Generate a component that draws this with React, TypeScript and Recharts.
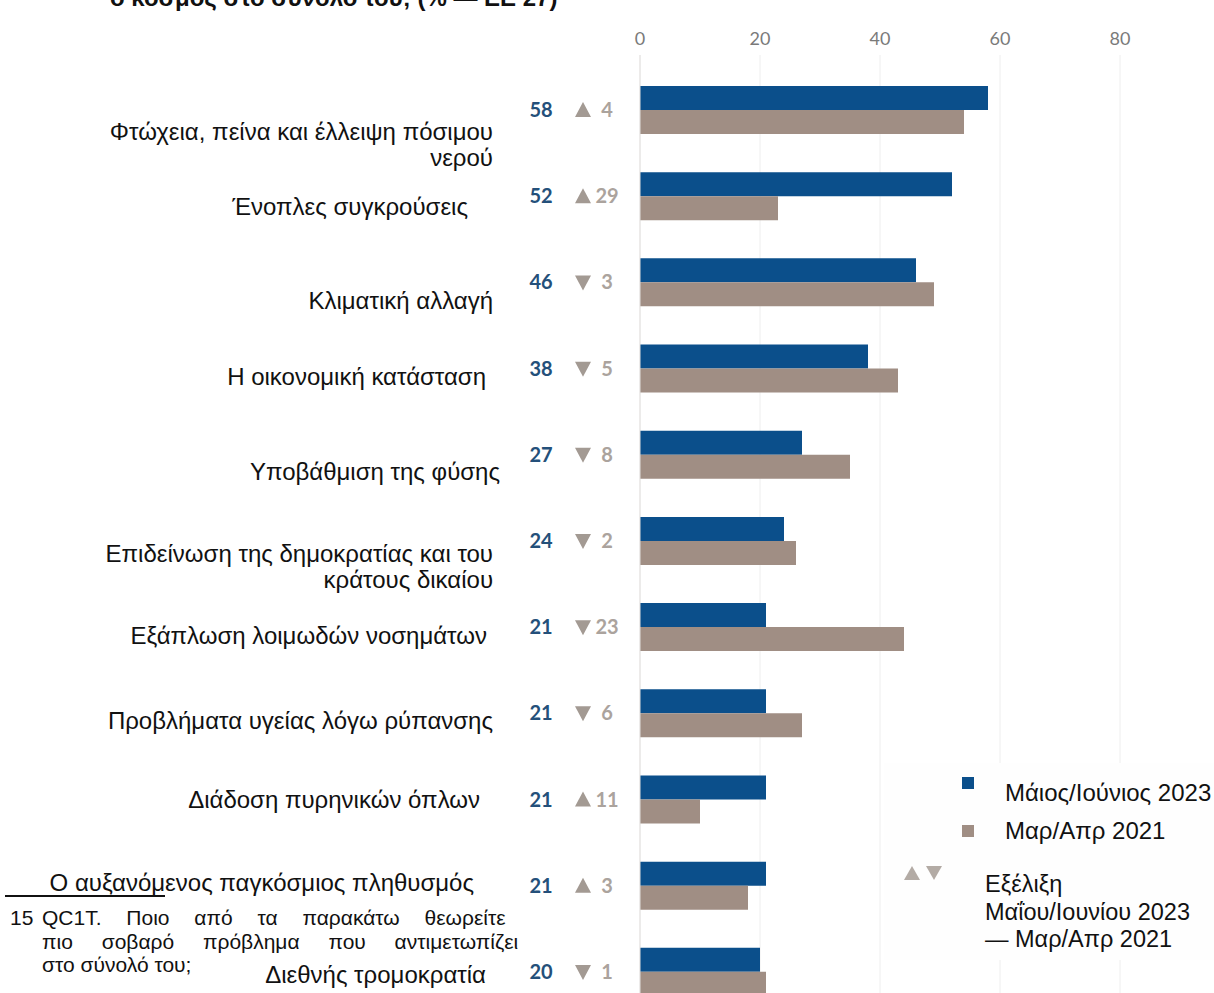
import { BarChart, Bar, XAxis, YAxis, CartesianGrid, Legend, ReferenceLine } from 'recharts'

const CATEGORIES = [
  'Φτώχεια, πείνα και έλλειψη πόσιμου\nνερού',
  'Ένοπλες συγκρούσεις',
  'Κλιματική αλλαγή',
  'Η οικονομική κατάσταση',
  'Υποβάθμιση της φύσης',
  'Επιδείνωση της δημοκρατίας και του\nκράτους δικαίου',
  'Εξάπλωση λοιμωδών νοσημάτων',
  'Προβλήματα υγείας λόγω ρύπανσης',
  'Διάδοση πυρηνικών όπλων',
  'Ο αυξανόμενος παγκόσμιος πληθυσμός',
  'Διεθνής τρομοκρατία',
]
const MAY_JUN_2023 = [58, 52, 46, 38, 27, 24, 21, 21, 21, 21, 20]
const MAR_APR_2021 = [54, 23, 49, 43, 35, 26, 44, 27, 10, 18, 21]
const CHANGE = [4, 29, -3, -5, -8, -2, -23, -6, 11, 3, -1]
const X_TICKS = [0, 20, 40, 60, 80]

// the scanned labels sit a little off their bars; nudge each one
const LABEL_DX = [0, -25, 0, -7, 7, 0, -6, 0, -13, -19, -7]
const LABEL_DY = [22, 10, 18, 8, 17, 13, 8, 7, 0, -3, 3]

const BLUE = '#0b4f8b'
const TAUPE = '#a08e84'
const ARROW = '#a39a93'
const LABEL_FONT = '"Liberation Sans", Arial, sans-serif'
const NUM_FONT = 'Lato, "Open Sans", sans-serif'

const data = CATEGORIES.map((name, i) => ({
  name,
  y2023: MAY_JUN_2023[i],
  y2021: MAR_APR_2021[i],
}))

function CategoryTick(props: any) {
  const { x, y, index } = props
  const i = index as number
  const lines = CATEGORIES[i].split('\n')
  const lx = x - 147 + LABEL_DX[i]
  const ly = y + LABEL_DY[i]
  const ch = CHANGE[i]
  const ax = x - 57
  const up = ch > 0
  const tri = up
    ? `${ax - 8},${y + 7} ${ax + 8},${y + 7} ${ax},${y - 8}`
    : `${ax - 8},${y - 7} ${ax + 8},${y - 7} ${ax},${y + 8}`
  return (
    <g>
      <text x={lx} y={ly} textAnchor="end" fontFamily={LABEL_FONT} fontSize={24} fill="#111">
        {lines.map((l, k) => (
          <tspan key={k} x={lx} dy={k === 0 ? '0.35em' : 26}>{l}</tspan>
        ))}
      </text>
      <text x={x - 99} y={y} dy="0.35em" textAnchor="middle" fontFamily={NUM_FONT}
        fontWeight={700} fontSize={20} fill="#24507a">{MAY_JUN_2023[i]}</text>
      <polygon points={tri} fill={ARROW} />
      <text x={x - 33} y={y} dy="0.35em" textAnchor="middle" fontFamily={NUM_FONT}
        fontWeight={700} fontSize={20} fill="#aba39d">{Math.abs(ch)}</text>
    </g>
  )
}

function LegendBox(props: any) {
  const items = (props.payload || []) as { value: string; color: string }[]
  return (
    <div style={{ position: 'relative', width: 330, height: 197, background: '#fefefe',
      fontFamily: LABEL_FONT, fontSize: 24, color: '#111' }}>
      {items.map((it, k) => (
        <div key={it.value}>
          <div style={{ position: 'absolute', left: 78, top: 14 + k * 48, width: 12, height: 12, background: it.color }} />
          <div style={{ position: 'absolute', left: 121, top: 18 + k * 38, whiteSpace: 'nowrap', lineHeight: '24px' }}>{it.value}</div>
        </div>
      ))}
      <svg style={{ position: 'absolute', left: 20, top: 102 }} width={44} height={16}>
        <polygon points="0,15 16,15 8,1" fill="#b3aba5" />
        <polygon points="22,1 38,1 30,15" fill="#b3aba5" />
      </svg>
      <div style={{ position: 'absolute', left: 101, top: 108, fontSize: 23.5, lineHeight: '27.5px', whiteSpace: 'nowrap' }}>
        Εξέλιξη<br />Μαΐου/Ιουνίου 2023<br />— Μαρ/Απρ 2021
      </div>
    </div>
  )
}

export default function App() {
  return (
    <div style={{ position: 'absolute', left: 0, top: 0, width: 1214, height: 993, overflow: 'hidden', background: '#fff' }}>
      {/* cut-off title of the source page */}
      <div style={{ position: 'absolute', left: 110, top: -16, fontFamily: LABEL_FONT, fontWeight: 700,
        fontSize: 24, whiteSpace: 'nowrap', color: '#111' }}>
        ο κόσμος στο σύνολό του; (% — ΕΕ 27)
      </div>

      {/* footnote of the source page, partly hidden under the chart image */}
      <div style={{ position: 'absolute', left: 0, top: 884, width: 519, height: 109, overflow: 'hidden',
        fontFamily: LABEL_FONT, fontSize: 21, color: '#111', lineHeight: '23px' }}>
        <div style={{ position: 'absolute', left: 5, top: 11, width: 160, height: 2, background: '#111' }} />
        <div style={{ position: 'absolute', left: 10, top: 22 }}>15</div>
        <div style={{ position: 'absolute', left: 42, top: 22, whiteSpace: 'nowrap', wordSpacing: 19 }}>
          QC1T. Ποιο από τα παρακάτω θεωρείτε ότι
        </div>
        <div style={{ position: 'absolute', left: 42, top: 46, whiteSpace: 'nowrap', wordSpacing: 23 }}>
          πιο σοβαρό πρόβλημα που αντιμετωπίζει ο κόσμος
        </div>
        <div style={{ position: 'absolute', left: 42, top: 69, whiteSpace: 'nowrap' }}>στο σύνολό του;</div>
      </div>

      <div style={{ position: 'absolute', left: 0, top: 0 }}>
        <BarChart width={1214} height={1030} data={data} layout="vertical" barSize={24} barGap={0}
          margin={{ top: 25, right: 94, left: 0, bottom: 15 }}>
          <CartesianGrid horizontal={false} stroke="#eeeeee" />
          <XAxis type="number" orientation="top" domain={[0, 80]} ticks={X_TICKS} height={30}
            axisLine={false} tickLine={false} tickMargin={4}
            tick={{ fill: '#7a7a7a', fontSize: 18, fontFamily: NUM_FONT }} />
          <YAxis type="category" dataKey="name" width={640} axisLine={false} tickLine={false}
            tickSize={0} tickMargin={0} interval={0} padding={{ top: 12, bottom: 0 }} tick={<CategoryTick />} />
          <ReferenceLine x={0} stroke="#e2dfdd" />
          <Legend layout="vertical" align="center" verticalAlign="middle"
            wrapperStyle={{ left: 884, top: 763, width: 330, height: 197 }}
            content={<LegendBox />} />
          <Bar dataKey="y2023" name="Μάιος/Ιούνιος 2023" fill={BLUE} isAnimationActive={false} />
          <Bar dataKey="y2021" name="Μαρ/Απρ 2021" fill={TAUPE} isAnimationActive={false} />
        </BarChart>
      </div>
    </div>
  )
}
